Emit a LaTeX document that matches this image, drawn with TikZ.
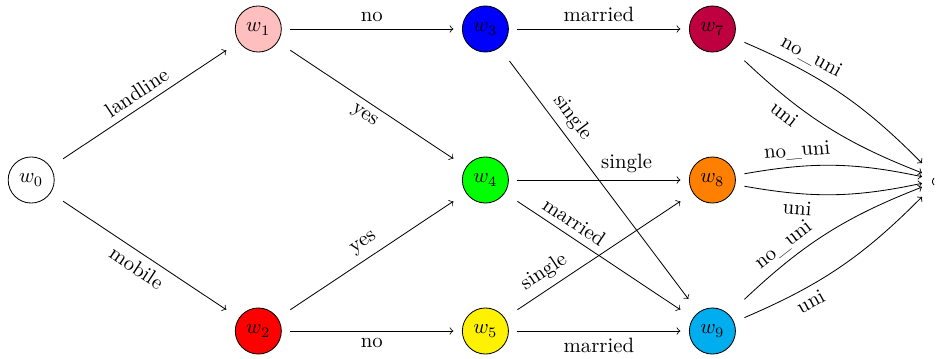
\documentclass[tikz,border=0pt]{standalone}
\usetikzlibrary{positioning}
\definecolor{pinkc}{RGB}{255,191,191}
\definecolor{redc}{RGB}{255,0,0}
\definecolor{bluec}{RGB}{0,0,255}
\definecolor{greenc}{RGB}{0,255,0}
\definecolor{yellowc}{RGB}{255,242,0}
\definecolor{purplec}{RGB}{191,0,64}
\definecolor{orangec}{RGB}{255,128,0}
\definecolor{cyanc}{RGB}{0,174,239}
\tikzset{
  stbox/.style={rectangle, minimum width=30.85pt, minimum height=30.85pt, inner sep=0pt, outer sep=0pt},
  sinkbox/.style={rectangle, minimum width=16.4pt, minimum height=16.4pt, inner sep=0pt, outer sep=0pt},
  wcirc/.style={circle, draw, minimum size=22.2pt, inner sep=0pt},
  arr/.style={->},
  bl/.style={->, bend left=11},
  br/.style={->, bend right=11}
}
\begin{document}
\begin{tikzpicture}[x=0.482pt, y=-0.482pt]
\useasboundingbox (0,0) rectangle (938,358);
% boxes used as edge ends
\node[stbox] (w0) at (31.2,180) {};
\node[stbox] (w1) at (258.3,29) {};
\node[stbox] (w2) at (258.3,331) {};
\node[stbox] (w3) at (485.4,29) {};
\node[stbox] (w4) at (485.4,180) {};
\node[stbox] (w5) at (485.4,331) {};
\node[stbox] (w7) at (712.4,29) {};
\node[stbox] (w8) at (712.4,180) {};
\node[stbox] (w9) at (712.4,331) {};
\node[sinkbox] (F) at (939,180) {};
% visible circles
\node[wcirc] (c0) at (w0) {$w_0$};
\node[wcirc, fill=pinkc] (c1) at (w1) {$w_1$};
\node[wcirc, fill=redc] (c2) at (w2) {$w_2$};
\node[wcirc, fill=bluec] (c3) at (w3) {$w_3$};
\node[wcirc, fill=greenc] (c4) at (w4) {$w_4$};
\node[wcirc, fill=yellowc] (c5) at (w5) {$w_5$};
\node[wcirc, fill=purplec] (c7) at (w7) {$w_7$};
\node[wcirc, fill=orangec] (c8) at (w8) {$w_8$};
\node[wcirc, fill=cyanc] (c9) at (w9) {$w_9$};
% partially visible sink node outline
\draw (937,181.5) ++(130:4.6) arc[start angle=130, end angle=230, radius=4.6];
% edges
\draw[arr] (w0) -- node[midway, above, sloped] {landline} (w1);
\draw[arr] (w0) -- node[midway, below, sloped] {mobile} (w2);
\draw[arr] (w1) -- node[midway, above] {no} (w3);
\draw[arr] (w1) -- node[midway, below, sloped] {yes} (w4);
\draw[arr] (w2) -- node[midway, above, sloped] {yes} (w4);
\draw[arr] (w2) -- node[midway, below] {no} (w5);
\draw[arr] (w3) -- node[midway, above] {married} (w7);
\draw[arr] (w3) -- node[pos=0.28, above, sloped] {single} (w9);
\draw[arr] (w4) -- node[pos=0.67, above] {single} (w8);
\draw[arr] (w4) -- node[pos=0.3, above, sloped] {married} (w9);
\draw[arr] (w5) -- node[pos=0.22, above, sloped] {single} (w8);
\draw[arr] (w5) -- node[midway, below] {married} (w9);
\draw[bl] (w7) to node[pos=0.29, above, sloped] {no\_uni} (F);
\draw[br] (w7) to node[pos=0.29, below, sloped] {uni} (F);
\draw[bl] (w8) to node[pos=0.29, above, sloped] {no\_uni} (F);
\draw[br] (w8) to node[pos=0.29, below, sloped] {uni} (F);
\draw[bl] (w9) to node[pos=0.29, above, sloped] {no\_uni} (F);
\draw[br] (w9) to node[pos=0.29, below, sloped] {uni} (F);
\end{tikzpicture}
\end{document}
